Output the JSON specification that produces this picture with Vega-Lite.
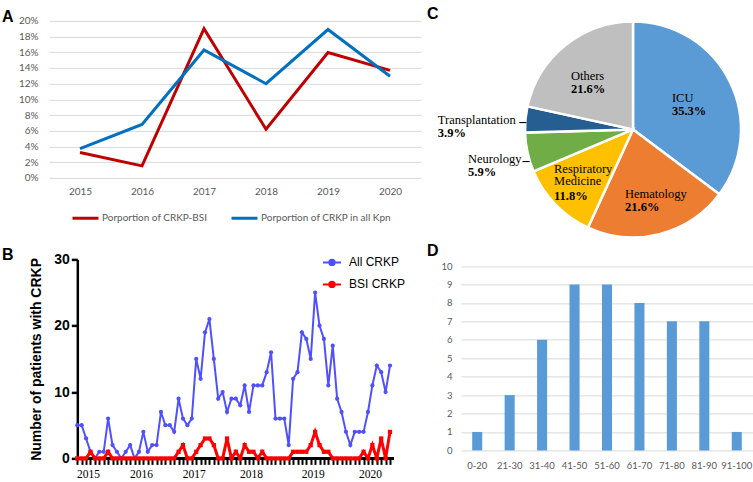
{
  "$schema": "https://vega.github.io/schema/vega-lite/v6.json",
  "padding": {"left": 2, "top": 5.9, "right": 0, "bottom": 0},
  "background": "white",
  "config": {
    "view": {"stroke": null},
    "title": {"font": "Liberation Sans", "fontSize": 16, "fontWeight": "bold", "color": "black", "anchor": "start", "frame": "group", "baseline": "bottom", "offset": 0}
  },
  "resolve": {"scale": {"color": "independent"}, "legend": {"color": "independent"}},
  "spacing": 0.5,
  "align": "none",
  "vconcat": [
    {
      "spacing": 6,
      "align": "each",
      "resolve": {"scale": {"color": "independent"}, "legend": {"color": "independent"}},
      "hconcat": [
        {
          "title": {"text": "A", "dx": -47, "dy": 13.3},
          "width": 372,
          "height": 157,
          "data": {"values": [
            {"year": 2015, "series": "Porportion of CRKP-BSI", "v": 0.0324},
            {"year": 2016, "series": "Porportion of CRKP-BSI", "v": 0.0153},
            {"year": 2017, "series": "Porportion of CRKP-BSI", "v": 0.19},
            {"year": 2018, "series": "Porportion of CRKP-BSI", "v": 0.062},
            {"year": 2019, "series": "Porportion of CRKP-BSI", "v": 0.1597},
            {"year": 2020, "series": "Porportion of CRKP-BSI", "v": 0.137},
            {"year": 2015, "series": "Porportion of CRKP in all Kpn", "v": 0.0374},
            {"year": 2016, "series": "Porportion of CRKP in all Kpn", "v": 0.068},
            {"year": 2017, "series": "Porportion of CRKP in all Kpn", "v": 0.163},
            {"year": 2018, "series": "Porportion of CRKP in all Kpn", "v": 0.12},
            {"year": 2019, "series": "Porportion of CRKP in all Kpn", "v": 0.189},
            {"year": 2020, "series": "Porportion of CRKP in all Kpn", "v": 0.1295}
          ]},
          "mark": {"type": "line", "strokeWidth": 3},
          "encoding": {
            "x": {"field": "year", "type": "ordinal", "scale": {"type": "point", "padding": 0.5},
              "axis": {"labelAngle": 0, "ticks": false, "domain": false, "labelColor": "#595959", "labelFont": "Lato", "labelFontSize": 10, "labelPadding": 9, "title": null}},
            "y": {"field": "v", "type": "quantitative", "scale": {"domain": [0, 0.2], "nice": false},
              "axis": {"values": [0, 0.02, 0.04, 0.06, 0.08, 0.1, 0.12, 0.14, 0.16, 0.18, 0.2], "format": ".0%", "grid": true, "gridColor": "#D9D9D9", "ticks": false, "domain": false, "labelColor": "#595959", "labelFont": "Lato", "labelFontSize": 10, "labelPadding": 11, "title": null}},
            "color": {"field": "series", "type": "nominal",
              "scale": {"domain": ["Porportion of CRKP-BSI", "Porportion of CRKP in all Kpn"], "range": ["#C00000", "#0070C0"]},
              "legend": {"orient": "none", "legendX": 22, "legendY": 182.6, "direction": "horizontal", "columns": 2, "title": null, "symbolType": "stroke", "symbolStrokeWidth": 3, "symbolSize": 676, "labelColor": "#595959", "labelFont": "Lato", "labelFontSize": 10, "labelOffset": 2, "columnPadding": 17}}
          }
        },
        {
          "title": {"text": "C", "dx": -97, "dy": 9.5},
          "width": 218,
          "height": 217,
          "data": {"values": [
            {"dept": "ICU", "value": 35.3, "label": "35.3%", "ord": 1},
            {"dept": "Hematology", "value": 21.6, "label": "21.6%", "ord": 2},
            {"dept": "Respiratory Medicine", "value": 11.8, "label": "11.8%", "ord": 3},
            {"dept": "Neurology", "value": 5.9, "label": "5.9%", "ord": 4},
            {"dept": "Transplantation", "value": 3.9, "label": "3.9%", "ord": 5},
            {"dept": "Others", "value": 21.6, "label": "21.6%", "ord": 6}
          ]},
          "encoding": {
            "theta": {"field": "value", "type": "quantitative", "stack": true},
            "order": {"field": "ord", "type": "quantitative"}
          },
          "layer": [
            {"mark": {"type": "arc", "outerRadius": 108, "stroke": "white", "strokeWidth": 2.5},
             "encoding": {"color": {"field": "dept", "type": "nominal", "legend": null,
               "scale": {"domain": ["ICU", "Hematology", "Respiratory Medicine", "Neurology", "Transplantation", "Others"], "range": ["#5B9BD5", "#ED7D31", "#FFC000", "#70AD47", "#255E91", "#BFBFBF"]}}}},
            {"mark": {"type": "text", "radius": 55.4, "dx": -10.6, "dy": 0, "align": "left", "baseline": "bottom", "font": "Liberation Serif", "fontSize": 12.5, "color": "black"},
             "encoding": {"detail": {"field": "dept", "type": "nominal"}, "text": {"condition": {"test": "datum.ord === 1", "field": "dept", "type": "nominal"}, "value": ""}}},
            {"mark": {"type": "text", "radius": 55.4, "dx": -10.6, "dy": 0, "align": "left", "baseline": "top", "font": "Liberation Serif", "fontSize": 12.5, "fontWeight": "bold", "color": "black"},
             "encoding": {"detail": {"field": "dept", "type": "nominal"}, "text": {"condition": {"test": "datum.ord === 1", "field": "label", "type": "nominal"}, "value": ""}}},
            {"mark": {"type": "text", "radius": 74.3, "dx": -26.2, "dy": 0, "align": "left", "baseline": "bottom", "font": "Liberation Serif", "fontSize": 12.5, "color": "black"},
             "encoding": {"detail": {"field": "dept", "type": "nominal"}, "text": {"condition": {"test": "datum.ord === 2", "field": "dept", "type": "nominal"}, "value": ""}}},
            {"mark": {"type": "text", "radius": 74.3, "dx": -26.2, "dy": 0, "align": "left", "baseline": "top", "font": "Liberation Serif", "fontSize": 12.5, "fontWeight": "bold", "color": "black"},
             "encoding": {"detail": {"field": "dept", "type": "nominal"}, "text": {"condition": {"test": "datum.ord === 2", "field": "label", "type": "nominal"}, "value": ""}}},
            {"mark": {"type": "text", "radius": 85.5, "dx": -17.6, "dy": -12.5, "align": "left", "baseline": "bottom", "font": "Liberation Serif", "fontSize": 12.5, "lineBreak": " ", "lineHeight": 11.5, "color": "black"},
             "encoding": {"detail": {"field": "dept", "type": "nominal"}, "text": {"condition": {"test": "datum.ord === 3", "field": "dept", "type": "nominal"}, "value": ""}}},
            {"mark": {"type": "text", "radius": 85.5, "dx": -17.6, "dy": 1, "align": "left", "baseline": "top", "font": "Liberation Serif", "fontSize": 12.5, "fontWeight": "bold", "color": "black"},
             "encoding": {"detail": {"field": "dept", "type": "nominal"}, "text": {"condition": {"test": "datum.ord === 3", "field": "label", "type": "nominal"}, "value": ""}}},
            {"mark": {"type": "text", "radius": {"expr": "datum.ord === 4 ? 170.4 : 0"}, "dx": 1.5, "dy": 0, "align": "left", "baseline": "bottom", "font": "Liberation Serif", "fontSize": 12.5, "color": "black"},
             "encoding": {"detail": {"field": "dept", "type": "nominal"}, "text": {"condition": {"test": "datum.ord === 4", "field": "dept", "type": "nominal"}, "value": ""}}},
            {"mark": {"type": "text", "radius": {"expr": "datum.ord === 4 ? 170.4 : 0"}, "dx": 1.5, "dy": 0, "align": "left", "baseline": "top", "font": "Liberation Serif", "fontSize": 12.5, "fontWeight": "bold", "color": "black"},
             "encoding": {"detail": {"field": "dept", "type": "nominal"}, "text": {"condition": {"test": "datum.ord === 4", "field": "label", "type": "nominal"}, "value": ""}}},
            {"mark": {"type": "text", "radius": {"expr": "datum.ord === 4 ? 170.4 : 0"}, "dx": 56, "dy": -4.7, "align": "left", "baseline": "middle", "font": "Liberation Serif", "fontSize": 14, "fontWeight": "bold", "color": "black"},
             "encoding": {"detail": {"field": "dept", "type": "nominal"}, "text": {"condition": {"test": "datum.ord === 4", "value": "–"}, "value": ""}}},
            {"mark": {"type": "text", "radius": {"expr": "datum.ord === 5 ? 196 : 0"}, "dx": 0, "dy": 15.7, "align": "left", "baseline": "bottom", "font": "Liberation Serif", "fontSize": 12.5, "color": "black"},
             "encoding": {"detail": {"field": "dept", "type": "nominal"}, "text": {"condition": {"test": "datum.ord === 5", "field": "dept", "type": "nominal"}, "value": ""}}},
            {"mark": {"type": "text", "radius": {"expr": "datum.ord === 5 ? 196 : 0"}, "dx": 0, "dy": 15.7, "align": "left", "baseline": "top", "font": "Liberation Serif", "fontSize": 12.5, "fontWeight": "bold", "color": "black"},
             "encoding": {"detail": {"field": "dept", "type": "nominal"}, "text": {"condition": {"test": "datum.ord === 5", "field": "label", "type": "nominal"}, "value": ""}}},
            {"mark": {"type": "text", "radius": {"expr": "datum.ord === 5 ? 196 : 0"}, "dx": 81.5, "dy": 11.2, "align": "left", "baseline": "middle", "font": "Liberation Serif", "fontSize": 14, "fontWeight": "bold", "color": "black"},
             "encoding": {"detail": {"field": "dept", "type": "nominal"}, "text": {"condition": {"test": "datum.ord === 5", "value": "–"}, "value": ""}}},
            {"mark": {"type": "text", "radius": 59.9, "dx": -24.5, "dy": 0, "align": "left", "baseline": "bottom", "font": "Liberation Serif", "fontSize": 12.5, "color": "black"},
             "encoding": {"detail": {"field": "dept", "type": "nominal"}, "text": {"condition": {"test": "datum.ord === 6", "field": "dept", "type": "nominal"}, "value": ""}}},
            {"mark": {"type": "text", "radius": 59.9, "dx": -24.5, "dy": 0, "align": "left", "baseline": "top", "font": "Liberation Serif", "fontSize": 12.5, "fontWeight": "bold", "color": "black"},
             "encoding": {"detail": {"field": "dept", "type": "nominal"}, "text": {"condition": {"test": "datum.ord === 6", "field": "label", "type": "nominal"}, "value": ""}}}
          ]
        }
      ]
    },
    {
      "spacing": 21,
      "align": "each",
      "resolve": {"scale": {"color": "independent"}, "legend": {"color": "independent"}},
      "hconcat": [
        {
          "title": {"text": "B", "dx": -47, "dy": 14.4},
          "width": 341,
          "height": 199,
          "data": {"values": [
            {"m": 0, "all": 5, "bsi": 0}, {"m": 1, "all": 5, "bsi": 0}, {"m": 2, "all": 3, "bsi": 0}, {"m": 3, "all": 1, "bsi": 1},
            {"m": 4, "all": 0, "bsi": 0}, {"m": 5, "all": 1, "bsi": 0}, {"m": 6, "all": 1, "bsi": 0}, {"m": 7, "all": 6, "bsi": 1},
            {"m": 8, "all": 2, "bsi": 0}, {"m": 9, "all": 1, "bsi": 0}, {"m": 10, "all": 0, "bsi": 0}, {"m": 11, "all": 1, "bsi": 0},
            {"m": 12, "all": 2, "bsi": 0}, {"m": 13, "all": 0, "bsi": 0}, {"m": 14, "all": 1, "bsi": 0}, {"m": 15, "all": 4, "bsi": 0},
            {"m": 16, "all": 1, "bsi": 0}, {"m": 17, "all": 2, "bsi": 0}, {"m": 18, "all": 2, "bsi": 0}, {"m": 19, "all": 7, "bsi": 0},
            {"m": 20, "all": 5, "bsi": 0}, {"m": 21, "all": 5, "bsi": 0}, {"m": 22, "all": 4, "bsi": 0}, {"m": 23, "all": 9, "bsi": 1},
            {"m": 24, "all": 6, "bsi": 2}, {"m": 25, "all": 5, "bsi": 0}, {"m": 26, "all": 6, "bsi": 0}, {"m": 27, "all": 15, "bsi": 1},
            {"m": 28, "all": 12, "bsi": 2}, {"m": 29, "all": 19, "bsi": 3}, {"m": 30, "all": 21, "bsi": 3}, {"m": 31, "all": 15, "bsi": 2},
            {"m": 32, "all": 9, "bsi": 0}, {"m": 33, "all": 10, "bsi": 0}, {"m": 34, "all": 7, "bsi": 3}, {"m": 35, "all": 9, "bsi": 0},
            {"m": 36, "all": 9, "bsi": 1}, {"m": 37, "all": 8, "bsi": 0}, {"m": 38, "all": 11, "bsi": 2}, {"m": 39, "all": 7, "bsi": 1},
            {"m": 40, "all": 11, "bsi": 1}, {"m": 41, "all": 11, "bsi": 0}, {"m": 42, "all": 11, "bsi": 1}, {"m": 43, "all": 13, "bsi": 0},
            {"m": 44, "all": 16, "bsi": 0}, {"m": 45, "all": 6, "bsi": 0}, {"m": 46, "all": 6, "bsi": 0}, {"m": 47, "all": 6, "bsi": 0},
            {"m": 48, "all": 2, "bsi": 0}, {"m": 49, "all": 12, "bsi": 1}, {"m": 50, "all": 13, "bsi": 1}, {"m": 51, "all": 19, "bsi": 1},
            {"m": 52, "all": 18, "bsi": 1}, {"m": 53, "all": 15, "bsi": 2}, {"m": 54, "all": 25, "bsi": 4}, {"m": 55, "all": 20, "bsi": 2},
            {"m": 56, "all": 18, "bsi": 1}, {"m": 57, "all": 11, "bsi": 1}, {"m": 58, "all": 17, "bsi": 0}, {"m": 59, "all": 9, "bsi": 0},
            {"m": 60, "all": 7, "bsi": 0}, {"m": 61, "all": 4, "bsi": 0}, {"m": 62, "all": 2, "bsi": 0}, {"m": 63, "all": 4, "bsi": 0},
            {"m": 64, "all": 4, "bsi": 0}, {"m": 65, "all": 4, "bsi": 1}, {"m": 66, "all": 7, "bsi": 0}, {"m": 67, "all": 11, "bsi": 2},
            {"m": 68, "all": 14, "bsi": 0}, {"m": 69, "all": 13, "bsi": 3}, {"m": 70, "all": 10, "bsi": 0}, {"m": 71, "all": 14, "bsi": 4}
          ]},
          "encoding": {
            "x": {"field": "m", "type": "quantitative", "scale": {"domain": [-6.42, 71], "nice": false, "zero": false},
              "axis": {"values": [0,1,2,3,4,5,6,7,8,9,10,11,12,13,14,15,16,17,18,19,20,21,22,23,24,25,26,27,28,29,30,31,32,33,34,35,36,37,38,39,40,41,42,43,44,45,46,47,48,49,50,51,52,53,54,55,56,57,58,59,60,61,62,63,64,65,66,67,68,69,70,71],
                "labelExpr": "datum.value === 2 ? '2015' : datum.value === 14 ? '2016' : datum.value === 26 ? '2017' : datum.value === 39 ? '2018' : datum.value === 53 ? '2019' : datum.value === 66 ? '2020' : ''",
                "labelOverlap": false, "labelFlush": false, "labelOffset": 2, "labelPadding": 4,
                "labelFont": "Liberation Serif", "labelFontSize": 11.5, "labelColor": "black",
                "tickSize": 6, "tickWidth": 2, "tickColor": "black", "domain": false, "grid": false, "title": null}},
            "color": {"datum": "All CRKP", "type": "nominal",
              "scale": {"domain": ["All CRKP", "BSI CRKP"], "range": ["#5050FF", "#FF0000"]},
              "legend": {"orient": "none", "legendX": 273, "legendY": -7, "title": null, "rowPadding": 5,
                "symbolType": "M-1,0H1M0.3,0A0.3,0.3,0,1,1,-0.3,0A0.3,0.3,0,1,1,0.3,0", "symbolSize": 324, "symbolStrokeWidth": 2,
                "labelFont": "Liberation Sans", "labelFontSize": 12, "labelColor": "black", "labelOffset": 7}}
          },
          "layer": [
            {"mark": {"type": "rule", "strokeWidth": 2.5, "color": "black"},
             "encoding": {"x": {"datum": -0.3, "type": "quantitative"}, "x2": {"datum": 71.7}, "y": {"datum": 0, "type": "quantitative"}, "color": {"value": "black"}}},
            {"mark": {"type": "line", "strokeWidth": 2},
             "encoding": {"y": {"field": "all", "type": "quantitative", "scale": {"domain": [0, 30], "nice": false},
               "axis": {"values": [0, 10, 20, 30], "offset": -28.3, "title": "Number of patients with CRKP", "titleFont": "Liberation Sans", "titleFontWeight": "bold", "titleFontSize": 14, "titleColor": "black", "titlePadding": 10,
                 "labelFont": "Liberation Sans", "labelFontWeight": "bold", "labelFontSize": 14, "labelColor": "black", "labelPadding": 2,
                 "tickSize": 6, "tickWidth": 2.5, "tickColor": "black", "domainColor": "black", "domainWidth": 2.5, "grid": false}}}},
            {"mark": {"type": "point", "shape": "circle", "filled": true, "size": 18, "opacity": 1},
             "encoding": {"y": {"field": "all", "type": "quantitative"}}},
            {"mark": {"type": "line", "strokeWidth": 3},
             "encoding": {"y": {"field": "bsi", "type": "quantitative"}, "color": {"datum": "BSI CRKP", "type": "nominal"}}},
            {"mark": {"type": "point", "shape": "square", "filled": true, "size": 18, "opacity": 1},
             "encoding": {"y": {"field": "bsi", "type": "quantitative"}, "color": {"datum": "BSI CRKP", "type": "nominal"}}}
          ]
        },
        {
          "title": {"text": "D", "dx": -34, "dy": 4},
          "width": 292,
          "height": 191,
          "data": {"values": [
            {"age": "0-20", "n": 1}, {"age": "21-30", "n": 3}, {"age": "31-40", "n": 6},
            {"age": "41-50", "n": 9}, {"age": "51-60", "n": 9}, {"age": "61-70", "n": 8},
            {"age": "71-80", "n": 7}, {"age": "81-90", "n": 7}, {"age": "91-100", "n": 1}
          ]},
          "mark": {"type": "bar", "color": "#5B9BD5"},
          "encoding": {
            "x": {"field": "age", "type": "ordinal", "sort": null, "scale": {"paddingInner": 0.69, "paddingOuter": 0.345},
              "axis": {"labelAngle": 0, "ticks": false, "domain": false, "labelColor": "#595959", "labelFont": "Lato", "labelFontSize": 9.5, "labelPadding": 10, "title": null}},
            "y": {"field": "n", "type": "quantitative", "scale": {"domain": [0, 10.36], "nice": false},
              "axis": {"values": [0,1,2,3,4,5,6,7,8,9,10], "grid": true, "gridColor": "#D9D9D9", "ticks": false, "domain": false, "labelColor": "#595959", "labelFont": "Lato", "labelFontSize": 9.5, "labelPadding": 9, "title": null}}
          }
        }
      ]
    }
  ]
}
